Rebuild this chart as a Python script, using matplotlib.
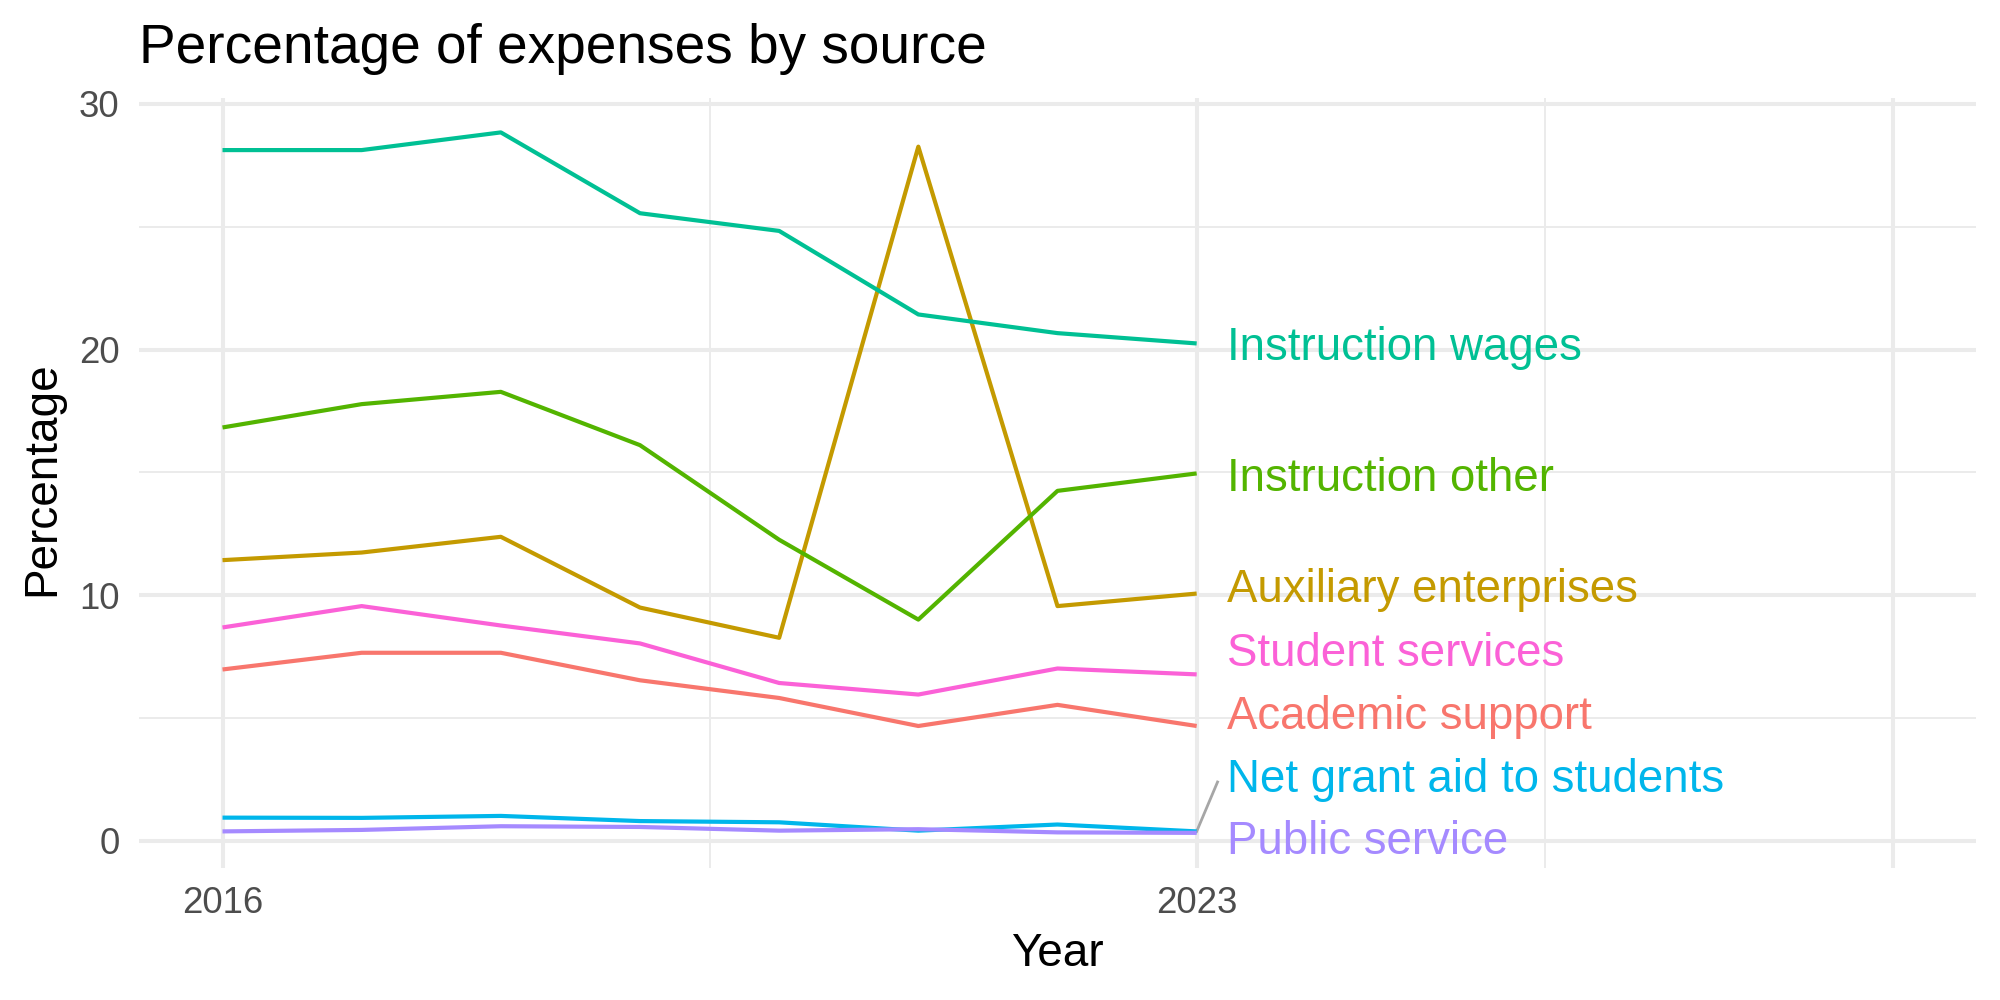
import matplotlib
matplotlib.use("Agg")
import matplotlib.pyplot as plt

plt.rcParams['font.family'] = ['Liberation Sans', 'DejaVu Sans']

years = [2016, 2017, 2018, 2019, 2020, 2021, 2022, 2023]

academic_support = [6.98, 7.66, 7.66, 6.54, 5.82, 4.68, 5.54, 4.68]
auxiliary_enterprises = [11.43, 11.74, 12.38, 9.50, 8.27, 28.26, 9.56, 10.07]
instruction_other = [16.83, 17.78, 18.28, 16.11, 12.26, 9.01, 14.25, 14.96]
instruction_wages = [28.12, 28.12, 28.84, 25.55, 24.83, 21.43, 20.67, 20.25]
net_grant_aid = [0.95, 0.94, 1.02, 0.81, 0.76, 0.42, 0.67, 0.39]
public_service = [0.39, 0.45, 0.60, 0.57, 0.42, 0.48, 0.35, 0.33]
student_services = [8.69, 9.56, 8.77, 8.04, 6.43, 5.96, 7.02, 6.78]

series_names = ["Academic support", "Auxiliary enterprises", "Instruction other",
                "Instruction wages", "Net grant aid to students", "Public service",
                "Student services"]
series_values = [academic_support, auxiliary_enterprises, instruction_other,
                 instruction_wages, net_grant_aid, public_service, student_services]
colors = ["#F8766D", "#C49A00", "#53B400", "#00C094", "#00B6EB", "#A58AFF", "#FB61D7"]

# repelled label positions (layout)
label_y = {"Academic support": 5.05, "Auxiliary enterprises": 10.2,
           "Instruction other": 14.73, "Instruction wages": 20.05,
           "Net grant aid to students": 2.47, "Public service": -0.04,
           "Student services": 7.63}

fig = plt.figure(figsize=(10, 5), dpi=200)
ax = fig.add_axes([0.0695, 0.132, 0.9185, 0.770])

for name, vals, c in zip(series_names, series_values, colors):
    ax.plot(years, vals, color=c, lw=1.5, solid_capstyle='butt', zorder=3)

# label segment for repelled label
ax.plot([years[-1], years[-1] + 0.15], [net_grant_aid[-1], 2.4], color="#A6A6A6", lw=1.0, zorder=2)

for name, vals, c in zip(series_names, series_values, colors):
    ax.text(years[-1] + 0.215, label_y[name], name, color=c, fontsize=16.45,
            ha='left', va='center', zorder=4)

ax.set_xlim(2015.4, 2028.6)
ax.set_ylim(-1.1, 30.24)
ax.set_xticks([2016, 2023, 2028])
ax.set_xticklabels(["2016", "2023", ""])
ax.set_xticks([2019.5, 2025.5], minor=True)
ax.set_yticks([0, 10, 20, 30])
ax.set_yticks([5, 15, 25], minor=True)
ax.grid(True, which='major', color='#EBEBEB', lw=1.45, zorder=0)
ax.grid(True, which='minor', color='#EBEBEB', lw=0.72, zorder=0)
ax.set_axisbelow(True)
for s in ax.spines.values():
    s.set_visible(False)
ax.tick_params(which='both', length=0, labelsize=13.2, labelcolor='#4D4D4D')
ax.tick_params(axis='x', pad=6.5)
ax.tick_params(axis='y', pad=7.0)

fig.text(0.0695, 0.937, "Percentage of expenses by source", fontsize=19.8,
         ha='left', va='baseline', color='black')
fig.text(0.5285, 0.034, "Year", fontsize=16.5, ha='center', va='baseline')
fig.text(0.021, 0.5215, "Percentage", fontsize=16.5, ha='center', va='center', rotation=90)

fig.savefig("out.png", dpi=200)
